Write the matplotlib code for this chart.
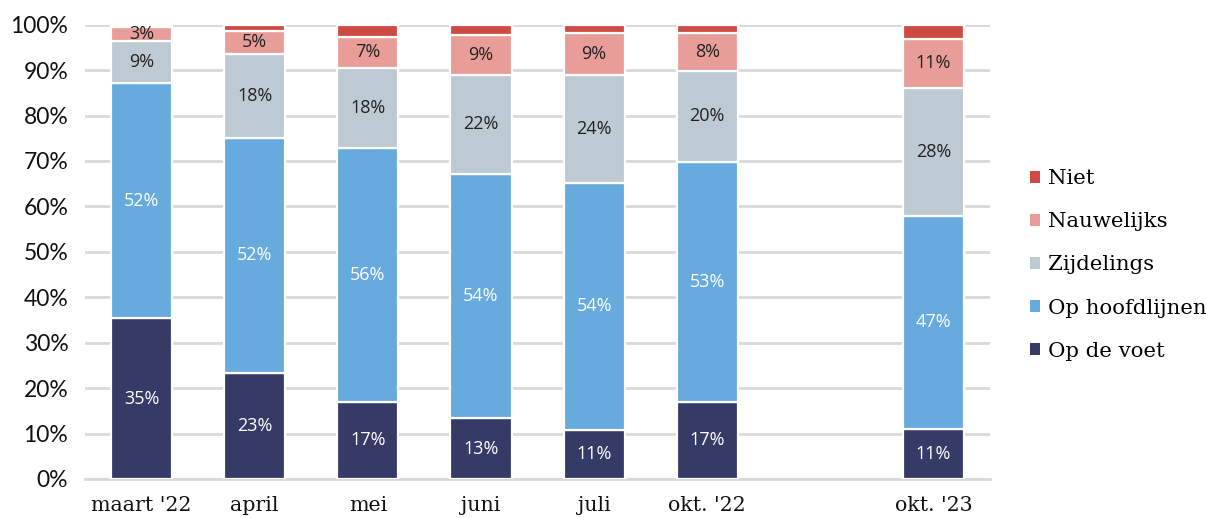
import numpy as np
import matplotlib.pyplot as plt

# data (percent of respondents)
months = ["maart '22", "april", "mei", "juni", "juli", "okt. '22", "okt. '23"]
positions = [0, 1, 2, 3, 4, 5, 7]
series = ["Op de voet", "Op hoofdlijnen", "Zijdelings", "Nauwelijks", "Niet"]
op_de_voet = [35.4, 23.3, 17.0, 13.4, 10.8, 17.0, 11.0]
op_hoofdlijnen = [51.7, 51.8, 55.9, 53.8, 54.4, 52.8, 46.9]
zijdelings = [9.3, 18.4, 17.6, 21.8, 23.8, 20.1, 28.2]
nauwelijks = [3.0, 5.2, 6.9, 8.8, 9.2, 8.3, 10.8]
niet = [0.6, 1.3, 2.6, 2.2, 1.8, 1.8, 3.1]

colors = ["#363a66", "#66aade", "#bdc9d3", "#e99d98", "#cd4b43"]
label_colors = ["white", "white", "#222222", "#222222", None]

sans = ["Lato", "DejaVu Sans"]
serif = ["DejaVu Serif"]

fig = plt.figure(figsize=(12.06, 5.18), dpi=100)
ax = fig.add_axes([0.0705, 0.0753, 0.7505, 0.877])

values = [op_de_voet, op_hoofdlijnen, zijdelings, nauwelijks, niet]
bottom = np.zeros(len(months))
for name, vals, col, lcol in zip(series, values, colors, label_colors):
    vals = np.array(vals)
    bars = ax.bar(positions, vals, bottom=bottom, width=0.54, color=col,
                  edgecolor="white", linewidth=1.6, label=name, zorder=3)
    if lcol is not None:
        for b, v, y0 in zip(bars, vals, bottom):
            ax.text(b.get_x() + b.get_width() / 2, y0 + v / 2, "%d%%" % round(v),
                    ha="center", va="center", color=lcol, fontsize=13,
                    family=["Open Sans", "DejaVu Sans"], zorder=4)
    bottom += vals

ax.set_xlim(-0.5, 7.5)
ax.set_ylim(0, 100)
ax.set_yticks(range(0, 101, 10))
ax.set_yticklabels(["%d%%" % t for t in range(0, 101, 10)], family=sans, fontsize=16.5)
ax.set_xticks(positions)
ax.set_xticklabels(months, family=serif, fontsize=14.8)
ax.tick_params(axis="both", length=0, colors="#111111")
ax.tick_params(axis="y", pad=12)
ax.tick_params(axis="x", pad=12)
ax.yaxis.grid(True, color="#d9d9d9", linewidth=2, zorder=0)
for s in ["left", "right", "top"]:
    ax.spines[s].set_visible(False)
ax.spines["bottom"].set_color("#d9d9d9")
ax.spines["bottom"].set_linewidth(2)

handles, labels = ax.get_legend_handles_labels()
leg = fig.legend(handles[::-1], labels[::-1], loc="center left",
                 bbox_to_anchor=(1030 / 1206, 1 - 265 / 518), borderaxespad=0, borderpad=0,
                 frameon=False, handlelength=0.45, handleheight=0.45, handletextpad=0.4,
                 labelspacing=1.13, prop={"family": serif, "size": 15.3})
for h in leg.legend_handles:
    h.set_linewidth(0)

fig.savefig("out.png", dpi=100)
